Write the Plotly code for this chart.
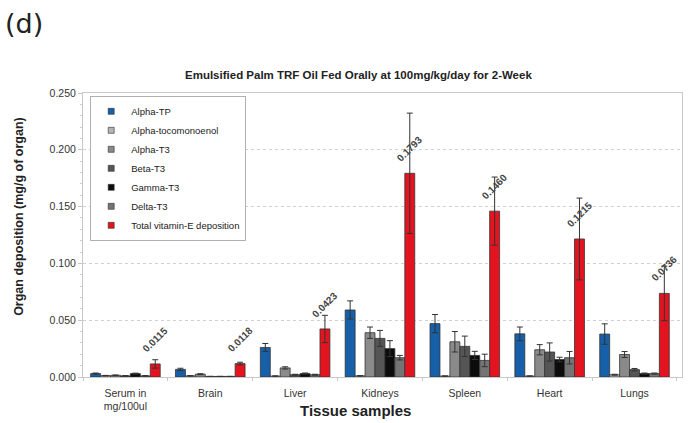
import plotly.graph_objects as go

# Tissue groups on the x axis
categories = ["Serum in<br>mg/100ul", "Brain", "Liver", "Kidneys", "Spleen", "Heart", "Lungs"]

# Organ deposition (mg/g of organ) per vitamin E isomer, with error values
alpha_tp = [0.0030, 0.0067, 0.0260, 0.0590, 0.0470, 0.0380, 0.0378]
alpha_tp_err = [0.0005, 0.0010, 0.0035, 0.0080, 0.0080, 0.0060, 0.0090]

alpha_tocomonoenol = [0.0012, 0.0010, 0.0008, 0.0010, 0.0008, 0.0008, 0.0020]
alpha_tocomonoenol_err = [0.0002, 0.0002, 0.0002, 0.0002, 0.0002, 0.0002, 0.0004]

alpha_t3 = [0.0015, 0.0025, 0.0080, 0.0390, 0.0310, 0.0240, 0.0198]
alpha_t3_err = [0.0003, 0.0004, 0.0010, 0.0050, 0.0090, 0.0045, 0.0026]

beta_t3 = [0.0010, 0.0005, 0.0020, 0.0340, 0.0270, 0.0220, 0.0065]
beta_t3_err = [0.0002, 0.0001, 0.0004, 0.0070, 0.0090, 0.0080, 0.0010]

gamma_t3 = [0.0030, 0.0005, 0.0030, 0.0250, 0.0190, 0.0154, 0.0030]
gamma_t3_err = [0.0004, 0.0001, 0.0005, 0.0070, 0.0036, 0.0020, 0.0005]

delta_t3 = [0.0010, 0.0005, 0.0020, 0.0170, 0.0146, 0.0170, 0.0030]
delta_t3_err = [0.0002, 0.0001, 0.0004, 0.0020, 0.0055, 0.0055, 0.0005]

total_vit_e = [0.0115, 0.0118, 0.0423, 0.1793, 0.1460, 0.1215, 0.0736]
total_vit_e_err = [0.0037, 0.0012, 0.0120, 0.0530, 0.0300, 0.0360, 0.0240]

y_ticks = [0.0, 0.05, 0.10, 0.15, 0.20, 0.25]

series = [
    ("Alpha-TP", alpha_tp, alpha_tp_err, "#1560a8"),
    ("Alpha-tocomonoenol", alpha_tocomonoenol, alpha_tocomonoenol_err, "#b4b4b4"),
    ("Alpha-T3", alpha_t3, alpha_t3_err, "#8a8a8a"),
    ("Beta-T3", beta_t3, beta_t3_err, "#555555"),
    ("Gamma-T3", gamma_t3, gamma_t3_err, "#0c0c0c"),
    ("Delta-T3", delta_t3, delta_t3_err, "#747474"),
    ("Total vitamin-E deposition", total_vit_e, total_vit_e_err, "#e3141f"),
]

FONT = "Liberation Sans, Arial, sans-serif"
BARGAP = 0.18

fig = go.Figure()
for name, vals, errs, color in series:
    fig.add_trace(go.Bar(
        name=name,
        x=categories,
        y=vals,
        showlegend=False,
        marker=dict(color=color, line=dict(color="#333333", width=0.8)),
        error_y=dict(type="data", array=errs, visible=True,
                     color="#333333", thickness=1, width=3),
    ))

# Legend entries drawn as small square swatches
for name, _, _, color in series:
    fig.add_trace(go.Scatter(
        name=name, x=[None], y=[None], mode="markers",
        marker=dict(symbol="square", size=6, color=color,
                    line=dict(color="#333333", width=0.6)),
        showlegend=True, hoverinfo="skip",
    ))

# Rotated value labels above the total vitamin-E bars
n_series = len(series)
red_offset = (1 - BARGAP) * ((n_series - 1) / 2) / n_series
for i, v in enumerate(total_vit_e):
    fig.add_annotation(
        x=i + red_offset, y=v, xref="x", yref="y",
        text=f"<b>{v:.4f}</b>", showarrow=False, textangle=-45,
        xanchor="center", yanchor="bottom", yshift=7,
        font=dict(family=FONT, size=10, color="#444444"),
    )

fig.add_annotation(
    text="(d)", xref="paper", yref="paper", x=-0.133, y=1.305,
    xanchor="left", yanchor="top", showarrow=False,
    font=dict(family="DejaVu Sans, sans-serif", size=27, color="#222222"),
)
fig.add_annotation(
    text="<b>Emulsified Palm TRF Oil Fed Orally at 100mg/kg/day for 2-Week</b>",
    xref="paper", yref="paper", x=0.46, y=1.035, xanchor="center", yanchor="bottom",
    showarrow=False, font=dict(family=FONT, size=11.5, color="#222222"),
)
fig.add_annotation(
    text="<b>Tissue samples</b>", xref="paper", yref="paper", x=0.455, y=-0.118,
    xanchor="center", yanchor="middle", showarrow=False,
    font=dict(family=FONT, size=15, color="#222222"),
)
fig.add_annotation(
    text="<b>Organ deposition (mg/g of organ)</b>", xref="paper", yref="paper",
    x=-0.108, y=0.565, xanchor="center", yanchor="middle", textangle=-90,
    showarrow=False, font=dict(family=FONT, size=12.5, color="#222222"),
)

fig.update_layout(
    width=689, height=423,
    margin=dict(l=83, r=7, t=93, b=46),
    paper_bgcolor="white", plot_bgcolor="white",
    barmode="group", bargap=BARGAP, bargroupgap=0,
    font=dict(family=FONT, size=10, color="#333333"),
    showlegend=True,
    legend=dict(
        x=0.012, y=0.99, xanchor="left", yanchor="top",
        bgcolor="white", bordercolor="#b0b0b0", borderwidth=1,
        font=dict(family=FONT, size=9.5, color="#222222"),
        tracegroupgap=0, itemwidth=30,
    ),
)
fig.update_xaxes(
    showline=True, linecolor="#c8c8c8", mirror=True,
    ticks="outside", tickson="boundaries", ticklen=3, tickcolor="#c8c8c8",
    ticklabelstandoff=6,
    tickfont=dict(family=FONT, size=10.5, color="#333333"),
    showgrid=False,
)
fig.update_yaxes(
    range=[0, 0.25], tickvals=y_ticks, tickformat=".3f",
    showline=True, linecolor="#c8c8c8", mirror=True,
    ticks="outside", ticklen=4, tickcolor="#c8c8c8",
    minor=dict(dtick=0.01, ticks="outside", ticklen=2, tickcolor="#d0d0d0"),
    showgrid=True, gridcolor="#d0d0d0", griddash="dot", gridwidth=1,
    zeroline=False,
    tickfont=dict(family=FONT, size=10.5, color="#333333"),
)

fig.write_html("out.html")
